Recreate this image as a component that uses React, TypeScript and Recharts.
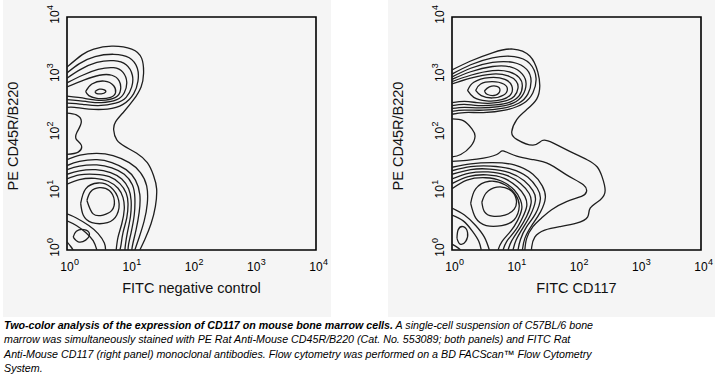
import React from 'react';
import { ScatterChart, Scatter, XAxis, YAxis, ReferenceArea, Label } from 'recharts';

type P = [number, number];
type Contour = { pts: P[]; closed?: boolean };

// axis decades (log10 of fluorescence), labelled 10^n
const decades = [0, 1, 2, 3, 4];

// ---- FITC negative control (left panel), contour points in log10 units ----
const negOuter: P[] = [[0, 3.14], [0.24, 3.35], [0.43, 3.45], [0.72, 3.5], [1.04, 3.45], [1.2, 3.29], [1.23, 3.03], [1.19, 2.8], [1.07, 2.58], [0.91, 2.37], [0.78, 2.2], [0.75, 2.06], [0.8, 1.89], [0.94, 1.77], [1.12, 1.66], [1.29, 1.5], [1.39, 1.28], [1.44, 1.05], [1.42, 0.75], [1.35, 0.45], [1.25, 0.18], [1.17, 0]];
const negUp1: P[] = [[0, 3.04], [0.2, 3.2], [0.45, 3.32], [0.75, 3.36], [1.0, 3.3], [1.13, 3.12], [1.14, 2.9], [1.07, 2.68], [0.9, 2.5], [0.65, 2.42], [0.35, 2.42], [0.12, 2.45], [0, 2.45]];
const negUp2: P[] = [[0, 2.95], [0.22, 3.1], [0.48, 3.22], [0.75, 3.25], [0.95, 3.18], [1.05, 3.0], [1.04, 2.8], [0.95, 2.62], [0.78, 2.52], [0.5, 2.48], [0.25, 2.5], [0, 2.52]];
const negUp3: P[] = [[0, 2.87], [0.25, 3.0], [0.5, 3.1], [0.75, 3.13], [0.9, 3.05], [0.96, 2.88], [0.92, 2.7], [0.8, 2.58], [0.55, 2.53], [0.3, 2.55], [0, 2.58]];
const negUp4: P[] = [[0, 2.8], [0.28, 2.92], [0.52, 3.0], [0.72, 3.0], [0.84, 2.9], [0.86, 2.75], [0.78, 2.62], [0.55, 2.57], [0.3, 2.6], [0, 2.64]];
const negUp5: P[] = [[0.3, 2.72], [0.4, 2.85], [0.6, 2.9], [0.75, 2.82], [0.78, 2.7], [0.7, 2.62], [0.5, 2.6], [0.35, 2.65]];
const negUp6: P[] = [[0.45, 2.72], [0.52, 2.76], [0.6, 2.75], [0.62, 2.71], [0.55, 2.68], [0.47, 2.69]];
const negIsland: P[] = [[0, 2.35], [0.15, 2.32], [0.23, 2.2], [0.16, 2.02], [0.15, 1.9], [0.23, 1.8], [0.18, 1.68], [0, 1.64]];
const negLow1: P[] = [[0, 1.55], [0.21, 1.63], [0.48, 1.66], [0.74, 1.62], [1.0, 1.5], [1.18, 1.33], [1.28, 1.1], [1.29, 0.8], [1.24, 0.5], [1.16, 0.22], [1.09, 0]];
const negLow2: P[] = [[0, 1.45], [0.2, 1.52], [0.48, 1.55], [0.72, 1.5], [0.95, 1.38], [1.1, 1.2], [1.17, 0.95], [1.16, 0.65], [1.11, 0.35], [1.06, 0.12], [1.04, 0]];
const negLow3: P[] = [[0, 1.38], [0.2, 1.44], [0.48, 1.46], [0.72, 1.41], [0.92, 1.3], [1.05, 1.12], [1.09, 0.9], [1.08, 0.6], [1.03, 0.3], [0.99, 0.1], [0.98, 0]];
const negLow4: P[] = [[0, 1.3], [0.2, 1.36], [0.46, 1.38], [0.7, 1.33], [0.88, 1.22], [0.99, 1.05], [1.03, 0.85], [1.02, 0.58], [0.97, 0.3], [0.94, 0.1], [0.93, 0]];
const negLow5: P[] = [[0, 1.22], [0.2, 1.29], [0.45, 1.3], [0.68, 1.26], [0.85, 1.14], [0.95, 0.98], [0.98, 0.8], [0.96, 0.55], [0.9, 0.3], [0.87, 0.1], [0.85, 0]];
const negLow6: P[] = [[0, 1.13], [0.2, 1.21], [0.45, 1.23], [0.66, 1.18], [0.82, 1.06], [0.9, 0.9], [0.92, 0.7], [0.88, 0.45], [0.82, 0.22], [0.79, 0]];
const negRing1: P[] = [[0.22, 0.8], [0.3, 1.05], [0.5, 1.15], [0.7, 1.08], [0.83, 0.85], [0.8, 0.6], [0.65, 0.47], [0.4, 0.47], [0.26, 0.6]];
const negRing2: P[] = [[0.32, 0.85], [0.38, 1.0], [0.52, 1.07], [0.68, 1.02], [0.76, 0.85], [0.72, 0.68], [0.58, 0.6], [0.42, 0.62]];
const negCorner1: P[] = [[0, 0.62], [0.15, 0.55], [0.35, 0.42], [0.5, 0.28], [0.6, 0.12], [0.62, 0]];
const negCorner2: P[] = [[0, 0.5], [0.15, 0.42], [0.3, 0.3], [0.42, 0.16], [0.48, 0]];
const negCorner3: P[] = [[0.1, 0.22], [0.15, 0.32], [0.27, 0.35], [0.36, 0.28], [0.3, 0.17], [0.18, 0.14]];
const negCorner4: P[] = [[0, 0.14], [0.06, 0.06], [0.1, 0]];

// ---- FITC CD117 (right panel) ----
const cdOuter: P[] = [[0, 3.09], [0.29, 3.24], [0.66, 3.39], [0.98, 3.45], [1.25, 3.33], [1.38, 3.05], [1.41, 2.81], [1.36, 2.59], [1.2, 2.41], [1.04, 2.24], [0.96, 2.03], [1.04, 1.9], [1.3, 1.8], [1.45, 1.88], [1.62, 1.84], [1.9, 1.69], [2.17, 1.55], [2.33, 1.43], [2.41, 1.26], [2.46, 1.02], [2.38, 0.86], [2.22, 0.72], [2.18, 0.57], [2.0, 0.46], [1.73, 0.4], [1.49, 0.34], [1.33, 0.22], [1.28, 0.05], [1.28, 0]];
const cdUp1: P[] = [[0, 3.02], [0.3, 3.18], [0.65, 3.3], [1.0, 3.32], [1.25, 3.2], [1.35, 2.95], [1.3, 2.7], [1.15, 2.52], [0.85, 2.4], [0.5, 2.36], [0.2, 2.36], [0, 2.33]];
const cdUp2: P[] = [[0, 2.97], [0.3, 3.12], [0.65, 3.22], [0.98, 3.22], [1.2, 3.1], [1.27, 2.9], [1.22, 2.68], [1.07, 2.52], [0.8, 2.43], [0.5, 2.4], [0.2, 2.4], [0, 2.38]];
const cdUp3: P[] = [[0, 2.93], [0.3, 3.06], [0.65, 3.15], [0.95, 3.14], [1.13, 3.02], [1.19, 2.85], [1.13, 2.65], [0.98, 2.52], [0.75, 2.46], [0.45, 2.44], [0.2, 2.45], [0, 2.43]];
const cdUp4: P[] = [[0, 2.89], [0.3, 3.0], [0.65, 3.08], [0.92, 3.06], [1.08, 2.96], [1.13, 2.82], [1.08, 2.65], [0.93, 2.54], [0.7, 2.49], [0.42, 2.48], [0.2, 2.5], [0, 2.48]];
const cdUp5: P[] = [[0, 2.85], [0.3, 2.95], [0.65, 3.02], [0.9, 2.99], [1.03, 2.9], [1.06, 2.78], [1.0, 2.64], [0.86, 2.56], [0.63, 2.52], [0.4, 2.53], [0.2, 2.55], [0, 2.53]];
const cdUp6: P[] = [[0.25, 2.74], [0.35, 2.88], [0.6, 2.96], [0.85, 2.93], [0.96, 2.82], [0.95, 2.68], [0.8, 2.58], [0.55, 2.56], [0.35, 2.62]];
const cdUp7: P[] = [[0.38, 2.74], [0.46, 2.85], [0.65, 2.89], [0.83, 2.85], [0.89, 2.76], [0.83, 2.66], [0.65, 2.61], [0.47, 2.65]];
const cdUp8: P[] = [[0.52, 2.73], [0.6, 2.8], [0.72, 2.81], [0.77, 2.74], [0.7, 2.66], [0.57, 2.67]];
const cdIsland: P[] = [[0, 2.25], [0.18, 2.22], [0.32, 2.08], [0.37, 1.95], [0.3, 1.78], [0.14, 1.64], [0, 1.6]];
const cdLow0: P[] = [[0, 1.52], [0.4, 1.56], [0.72, 1.64], [0.82, 1.7], [1.04, 1.61], [1.31, 1.55], [1.57, 1.47], [1.84, 1.29], [2.11, 1.12], [2.16, 1.0], [2.08, 0.92], [1.84, 0.83], [1.6, 0.69], [1.44, 0.55], [1.3, 0.4], [1.2, 0.2], [1.17, 0]];
const cdLow1: P[] = [[0, 1.42], [0.3, 1.48], [0.65, 1.5], [1.0, 1.46], [1.3, 1.3], [1.45, 1.1], [1.5, 0.9], [1.42, 0.65], [1.28, 0.42], [1.17, 0.2], [1.13, 0]];
const cdLow2: P[] = [[0, 1.36], [0.3, 1.43], [0.62, 1.44], [0.95, 1.39], [1.22, 1.25], [1.37, 1.06], [1.42, 0.88], [1.34, 0.62], [1.2, 0.4], [1.1, 0.18], [1.06, 0]];
const cdLow3: P[] = [[0, 1.3], [0.3, 1.38], [0.6, 1.39], [0.92, 1.33], [1.16, 1.19], [1.3, 1.02], [1.34, 0.85], [1.26, 0.6], [1.14, 0.38], [1.03, 0.17], [0.98, 0]];
const cdLow4: P[] = [[0, 1.22], [0.28, 1.32], [0.58, 1.34], [0.88, 1.28], [1.1, 1.14], [1.24, 0.97], [1.27, 0.8], [1.2, 0.58], [1.08, 0.36], [0.96, 0.16], [0.9, 0]];
const cdLow5: P[] = [[0, 1.14], [0.26, 1.26], [0.56, 1.29], [0.84, 1.23], [1.05, 1.08], [1.17, 0.92], [1.2, 0.75], [1.13, 0.55], [1.02, 0.34], [0.88, 0.15], [0.82, 0]];
const cdLow6: P[] = [[0, 1.05], [0.24, 1.2], [0.54, 1.24], [0.8, 1.18], [1.0, 1.03], [1.1, 0.86], [1.12, 0.7], [1.05, 0.5], [0.94, 0.32], [0.8, 0.14], [0.74, 0]];
const cdRing1: P[] = [[0.3, 0.8], [0.38, 1.05], [0.6, 1.18], [0.85, 1.12], [1.02, 0.95], [1.08, 0.75], [1.0, 0.52], [0.8, 0.42], [0.55, 0.42], [0.38, 0.55]];
const cdRing2: P[] = [[0.48, 0.82], [0.55, 0.98], [0.72, 1.08], [0.92, 1.04], [1.03, 0.88], [1.0, 0.7], [0.85, 0.6], [0.65, 0.58], [0.52, 0.66]];
const cdCorner1: P[] = [[0, 0.72], [0.2, 0.6], [0.38, 0.42], [0.52, 0.22], [0.6, 0]];
const cdCorner2: P[] = [[0, 0.6], [0.18, 0.5], [0.33, 0.32], [0.43, 0.15], [0.47, 0]];
const cdCorner3: P[] = [[0.08, 0.2], [0.1, 0.35], [0.18, 0.4], [0.25, 0.3], [0.22, 0.15], [0.13, 0.1]];
const cdCorner4: P[] = [[0, 0.1], [0.08, 0.05], [0.14, 0]];

const negativeControl: Contour[] = [
  { pts: negOuter }, { pts: negUp1 }, { pts: negUp2 }, { pts: negUp3 }, { pts: negUp4 },
  { pts: negUp5, closed: true }, { pts: negUp6, closed: true }, { pts: negIsland },
  { pts: negLow1 }, { pts: negLow2 }, { pts: negLow3 }, { pts: negLow4 }, { pts: negLow5 }, { pts: negLow6 },
  { pts: negRing1, closed: true }, { pts: negRing2, closed: true },
  { pts: negCorner1 }, { pts: negCorner2 }, { pts: negCorner3, closed: true }, { pts: negCorner4 },
];

const cd117: Contour[] = [
  { pts: cdOuter }, { pts: cdUp1 }, { pts: cdUp2 }, { pts: cdUp3 }, { pts: cdUp4 }, { pts: cdUp5 },
  { pts: cdUp6, closed: true }, { pts: cdUp7, closed: true }, { pts: cdUp8, closed: true }, { pts: cdIsland },
  { pts: cdLow0 }, { pts: cdLow1 }, { pts: cdLow2 }, { pts: cdLow3 }, { pts: cdLow4 }, { pts: cdLow5 }, { pts: cdLow6 },
  { pts: cdRing1, closed: true }, { pts: cdRing2, closed: true },
  { pts: cdCorner1 }, { pts: cdCorner2 }, { pts: cdCorner3, closed: true }, { pts: cdCorner4 },
];

// rows are built once; closed rings repeat their first point so the
// interpolating curve comes back to where it started
type Row = { x: number; y: number };
const toSeries = (list: Contour[]): Row[][] =>
  list.map((c) => {
    const pts = c.closed ? [...c.pts, c.pts[0]] : c.pts;
    return pts.map(([x, y]) => ({ x, y }));
  });
const negativeSeries = toSeries(negativeControl);
const cd117Series = toSeries(cd117);

const FONT = '"Liberation Sans", Arial, Helvetica, sans-serif';
const LINE_STYLE = { stroke: '#1e1e1e', strokeWidth: 1.3, fill: 'none' };
const NoDot = () => <g />;

const LogTickX = (props: any) => {
  const { x, y, payload } = props;
  return (
    <g fontFamily={FONT} fill="#000">
      <text x={x} y={y + 21} textAnchor="middle" fontSize={12}>10</text>
      <text x={x + 7} y={y + 15} fontSize={9}>{payload.value}</text>
    </g>
  );
};

const LogTickY = (props: any) => {
  const { x, y, payload } = props;
  return (
    <g transform={`translate(${x - 7.7},${y}) rotate(-90)`} fontFamily={FONT} fill="#000">
      <text x={0} y={0} textAnchor="middle" fontSize={12}>10</text>
      <text x={7} y={-6} fontSize={9}>{payload.value}</text>
    </g>
  );
};

function ContourPanel({ series, xLabel, left, width }: { series: Row[][]; xLabel: string; left: number; width: number }) {
  return (
    <div style={{ position: 'absolute', left, top: 0, width, height: 317, background: '#f5f5f5' }}>
      <ScatterChart width={width} height={317} margin={{ top: 17, right: width - 313, bottom: 37, left: 24 }}>
        <XAxis type="number" dataKey="x" domain={[0, 4]} ticks={decades} interval={0} allowDataOverflow
          tick={<LogTickX />} tickSize={0} tickMargin={0} tickLine={false} axisLine={false} height={30}>
          <Label content={(p: any) => (
            <text x={p.viewBox.x + p.viewBox.width / 2} y={p.viewBox.y + 43} textAnchor="middle"
              fontSize={14.5} fontFamily={FONT} fill="#111">{xLabel}</text>
          )} />
        </XAxis>
        <YAxis type="number" dataKey="y" domain={[0, 4]} ticks={decades} interval={0} allowDataOverflow
          tick={<LogTickY />} tickSize={0} tickMargin={0} tickLine={false} axisLine={false} width={40}>
          <Label content={(p: any) => {
            const cx = p.viewBox.x - 8.8;
            const cy = p.viewBox.y + p.viewBox.height / 2 + 2.5;
            return (
              <text x={cx} y={cy} transform={`rotate(-90, ${cx}, ${cy})`} textAnchor="middle"
                fontSize={14.5} fontFamily={FONT} fill="#111">PE CD45R/B220</text>
            );
          }} />
        </YAxis>
        {series.map((rows, i) => (
          <Scatter key={i} data={rows} shape={NoDot} line={LINE_STYLE}
            lineJointType="natural" isAnimationActive={false} />
        ))}
        <ReferenceArea x1={0} x2={4} y1={0} y2={4} fill="none" stroke="#000" strokeWidth={1.6} ifOverflow="visible" />
      </ScatterChart>
    </div>
  );
}

export default function App() {
  return (
    <div style={{ position: 'absolute', left: 0, top: 0, width: 715, height: 378, background: '#fff', overflow: 'hidden', fontFamily: FONT }}>
      <ContourPanel series={negativeSeries} xLabel="FITC negative control" left={3} width={328} />
      <ContourPanel series={cd117Series} xLabel="FITC CD117" left={388} width={327} />
      <div style={{ position: 'absolute', left: 4, top: 318, width: 710, fontSize: 10.7, lineHeight: '14.3px', fontStyle: 'italic', color: '#000', whiteSpace: 'nowrap' }}>
        <b>Two-color analysis of the expression of CD117 on mouse bone marrow cells.</b> A single-cell suspension of C57BL/6 bone<br />
        marrow was simultaneously stained with PE Rat Anti-Mouse CD45R/B220 (Cat. No. 553089; both panels) and FITC Rat<br />
        Anti-Mouse CD117 (right panel) monoclonal antibodies. Flow cytometry was performed on a BD FACScan™ Flow Cytometry<br />
        System.
      </div>
    </div>
  );
}
